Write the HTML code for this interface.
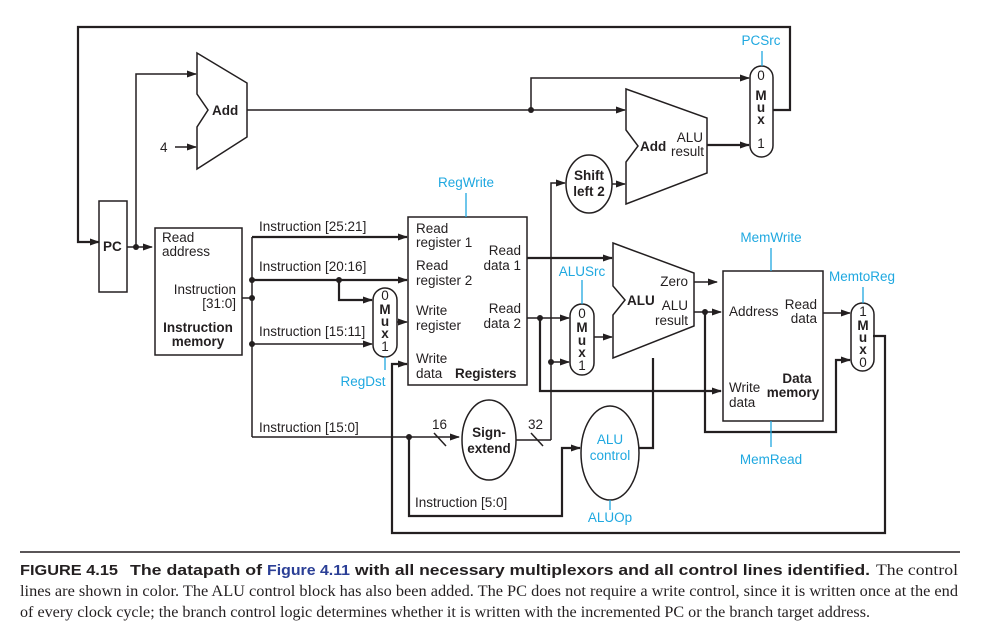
<!DOCTYPE html>
<html><head><meta charset="utf-8"><style>
html,body{margin:0;padding:0;background:#fff;width:983px;height:632px;overflow:hidden}
svg{display:block}
text{font-family:"Liberation Sans",sans-serif;font-size:13.5px;fill:#231f20}
.b{font-weight:bold}
.c{fill:#1fa8e0}
.s{font-family:"Liberation Serif",serif;font-size:15.5px}
.cb{font-family:"Liberation Sans",sans-serif;font-size:14.5px;font-weight:bold}
</style></head><body>
<svg width="983" height="632" viewBox="0 0 983 632">
<defs><marker id="a" markerWidth="10" markerHeight="8" refX="9" refY="4" orient="auto" markerUnits="userSpaceOnUse"><path d="M0,0.5 L10,4 L0,7.5 Z" fill="#231f20"/></marker></defs>
<g fill="none" stroke="#231f20" stroke-width="1.5">
<polyline points="773,110 790,110 790,27 78,27 78,242 99,242" stroke-width="2.2" marker-end="url(#a)"/>
<rect x="99" y="201" width="28" height="91"/>
<line x1="127" y1="247" x2="152" y2="247" marker-end="url(#a)"/>
<polyline points="136,247 136,74 196,74" marker-end="url(#a)"/>
<polygon points="197,53 247,83 247,137 197,169 197,127 208,110 197,94"/>
<line x1="175" y1="147" x2="196" y2="147" marker-end="url(#a)"/>
<line x1="247" y1="110" x2="625" y2="110" marker-end="url(#a)"/>
<polyline points="531,110 531,78 749,78" marker-end="url(#a)"/>
<polygon points="626,89 707,118 707,173 626,204 626,162 638,146 626,130"/>
<line x1="707" y1="145" x2="749" y2="145" stroke-width="2.2" marker-end="url(#a)"/>
<rect x="750" y="66" width="23" height="91" rx="11.5"/>
<ellipse cx="589" cy="184" rx="23" ry="29"/>
<line x1="612" y1="184" x2="625" y2="184" marker-end="url(#a)"/>
<polyline points="551,440 551,183 565,183" marker-end="url(#a)"/>
<rect x="155" y="228" width="87" height="127"/>
<line x1="242" y1="298" x2="252" y2="298"/>
<line x1="252" y1="237" x2="252" y2="437"/>
<line x1="252" y1="237" x2="407" y2="237" stroke-width="2.2" marker-end="url(#a)"/>
<line x1="252" y1="280" x2="407" y2="280" stroke-width="2.2" marker-end="url(#a)"/>
<polyline points="339,280 339,300 372,300" stroke-width="2.2" marker-end="url(#a)"/>
<line x1="252" y1="344" x2="372" y2="344" marker-end="url(#a)"/>
<polyline points="252,437 459,437" marker-end="url(#a)"/>
<rect x="373" y="288" width="24" height="69" rx="12"/>
<line x1="397" y1="322" x2="407" y2="322" marker-end="url(#a)"/>
<rect x="408" y="217" width="119" height="168"/>
<polyline points="873,336 885,336 885,533 392,533 392,364 407,364" stroke-width="2.2" marker-end="url(#a)"/>
<line x1="527" y1="258" x2="612" y2="258" stroke-width="2.2" marker-end="url(#a)"/>
<line x1="527" y1="318" x2="569" y2="318" marker-end="url(#a)"/>
<polyline points="540,318 540,391 721,391" stroke-width="2.2" marker-end="url(#a)"/>
<line x1="551" y1="362" x2="569" y2="362" marker-end="url(#a)"/>
<rect x="570" y="304" width="24" height="71" rx="12"/>
<line x1="594" y1="337" x2="612" y2="337" marker-end="url(#a)"/>
<ellipse cx="489" cy="440" rx="27" ry="40"/>
<line x1="516" y1="440" x2="551" y2="440"/>
<line x1="434" y1="433" x2="446" y2="446"/>
<line x1="531" y1="433" x2="543" y2="446"/>
<polygon points="613,243 694,273 694,326 613,358 613,315 625,300 613,286"/>
<line x1="694" y1="282" x2="717" y2="282" marker-end="url(#a)"/>
<line x1="694" y1="312" x2="721" y2="312" marker-end="url(#a)"/>
<polyline points="705,312 705,432 836,432 836,360 850,360" stroke-width="2.2" marker-end="url(#a)"/>
<rect x="723" y="271" width="100" height="150"/>
<line x1="823" y1="313" x2="850" y2="313" marker-end="url(#a)"/>
<rect x="851" y="303" width="23" height="68" rx="11.5"/>
<ellipse cx="610" cy="453" rx="29" ry="47"/>
<polyline points="639,448 653,448 653,358" stroke-width="2.2"/>
<polyline points="409,437 409,516 562,516 562,448 580,448" stroke-width="2.2" marker-end="url(#a)"/>
</g>
<g stroke="#1fa8e0" stroke-width="1.3">
<line x1="762" y1="51" x2="762" y2="66"/>
<line x1="466" y1="193" x2="466" y2="217"/>
<line x1="385" y1="357" x2="385" y2="370"/>
<line x1="582" y1="280" x2="582" y2="304"/>
<line x1="771" y1="248" x2="771" y2="271"/>
<line x1="771" y1="421" x2="771" y2="447"/>
<line x1="863" y1="287" x2="863" y2="303"/>
<line x1="610" y1="500" x2="610" y2="510"/>
</g>
<g fill="#231f20">
<circle cx="136" cy="247" r="3"/><circle cx="531" cy="110" r="3"/>
<circle cx="252" cy="280" r="3"/><circle cx="252" cy="298" r="3"/><circle cx="252" cy="344" r="3"/>
<circle cx="339" cy="280" r="3"/><circle cx="409" cy="437" r="3"/>
<circle cx="540" cy="318" r="3"/><circle cx="551" cy="362" r="3"/><circle cx="705" cy="312" r="3"/>
</g>
<text x="103" y="251" class="b">PC</text>
<text x="212" y="115" class="b">Add</text>
<text x="160" y="152">4</text>
<text x="640" y="151" class="b">Add</text>
<text x="703" y="142" text-anchor="end">ALU</text>
<text x="704" y="156" text-anchor="end">result</text>
<g text-anchor="middle">
<text x="761" y="80">0</text><text x="761" y="100" class="b">M</text><text x="761" y="112" class="b">u</text><text x="761" y="124" class="b">x</text><text x="761" y="148">1</text>
<text x="589" y="180" class="b">Shift</text><text x="589" y="196" class="b">left 2</text>
<text x="385" y="300">0</text><text x="385" y="314" class="b">M</text><text x="385" y="326" class="b">u</text><text x="385" y="338" class="b">x</text><text x="385" y="351">1</text>
<text x="582" y="318">0</text><text x="582" y="332" class="b">M</text><text x="582" y="345" class="b">u</text><text x="582" y="357" class="b">x</text><text x="582" y="370">1</text>
<text x="863" y="316">1</text><text x="863" y="330" class="b">M</text><text x="863" y="342" class="b">u</text><text x="863" y="354" class="b">x</text><text x="863" y="367">0</text>
<text x="489" y="437" class="b">Sign-</text><text x="489" y="453" class="b">extend</text>
<text x="198" y="332" class="b">Instruction</text><text x="198" y="346" class="b">memory</text>
<text x="797" y="383" class="b">Data</text><text x="793" y="397" class="b">memory</text>
<text x="610" y="444" class="c">ALU</text><text x="610" y="460" class="c">control</text>
</g>
<text x="162" y="242">Read</text><text x="162" y="256">address</text>
<text x="236" y="294" text-anchor="end">Instruction</text><text x="236" y="308" text-anchor="end">[31:0]</text>
<text x="259" y="231">Instruction [25:21]</text>
<text x="259" y="271">Instruction [20:16]</text>
<text x="259" y="336">Instruction [15:11]</text>
<text x="259" y="432">Instruction [15:0]</text>
<text x="415" y="507">Instruction [5:0]</text>
<text x="432" y="429">16</text><text x="528" y="429">32</text>
<text x="416" y="233">Read</text><text x="416" y="247">register 1</text>
<text x="416" y="270">Read</text><text x="416" y="285">register 2</text>
<text x="416" y="315">Write</text><text x="416" y="330">register</text>
<text x="416" y="363">Write</text><text x="416" y="378">data</text>
<text x="455" y="378" class="b">Registers</text>
<text x="521" y="255" text-anchor="end">Read</text><text x="521" y="270" text-anchor="end">data 1</text>
<text x="521" y="313" text-anchor="end">Read</text><text x="521" y="328" text-anchor="end">data 2</text>
<text x="627" y="305" class="b">ALU</text>
<text x="688" y="286" text-anchor="end">Zero</text>
<text x="688" y="310" text-anchor="end">ALU</text><text x="688" y="325" text-anchor="end">result</text>
<text x="729" y="316">Address</text>
<text x="817" y="309" text-anchor="end">Read</text><text x="817" y="323" text-anchor="end">data</text>
<text x="729" y="392">Write</text><text x="729" y="407">data</text>
<g text-anchor="middle">
<text x="761" y="45" class="c">PCSrc</text>
<text x="466" y="187" class="c">RegWrite</text>
<text x="363" y="386" class="c">RegDst</text>
<text x="582" y="276" class="c">ALUSrc</text>
<text x="771" y="242" class="c">MemWrite</text>
<text x="771" y="464" class="c">MemRead</text>
<text x="862" y="281" class="c">MemtoReg</text>
<text x="610" y="522" class="c">ALUOp</text>
</g>
<line x1="20" y1="552" x2="960" y2="552" stroke="#231f20" stroke-width="1.5"/>
<text x="20" y="575" class="cb" textLength="98" lengthAdjust="spacingAndGlyphs">FIGURE 4.15</text>
<text x="130" y="575" class="cb" textLength="132" lengthAdjust="spacingAndGlyphs">The datapath of</text>
<text x="267" y="575" class="cb" style="fill:#2b3f96" textLength="83" lengthAdjust="spacingAndGlyphs">Figure 4.11</text>
<text x="355" y="575" class="cb" textLength="515" lengthAdjust="spacingAndGlyphs">with all necessary multiplexors and all control lines identified.</text>
<text x="876" y="575" class="s" textLength="82" lengthAdjust="spacingAndGlyphs">The control</text>
<text x="20" y="596" class="s" textLength="938" lengthAdjust="spacingAndGlyphs">lines are shown in color. The ALU control block has also been added. The PC does not require a write control, since it is written once at the end</text>
<text x="20" y="617" class="s" textLength="850" lengthAdjust="spacingAndGlyphs">of every clock cycle; the branch control logic determines whether it is written with the incremented PC or the branch target address.</text>
</svg>
</body></html>
